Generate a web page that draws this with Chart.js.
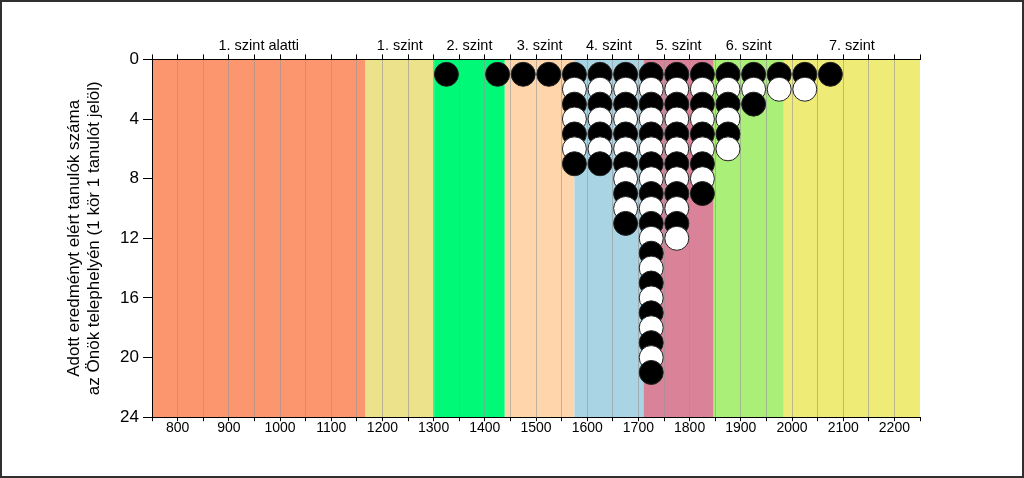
<!DOCTYPE html>
<html lang="hu">
<head>
    <meta charset="UTF-8">
    <title>Képességpontok eloszlása</title>
    <script src="https://cdn.jsdelivr.net/npm/chart.js"></script>
    <style>
        html, body { margin: 0; padding: 0; background: #fff; }
        #keret {
            position: absolute; left: 0; top: 0;
            width: 1024px; height: 478px;
            box-sizing: border-box;
            border: 2px solid #303030;
        }
    </style>
</head>
<body>
    <div id="keret"><canvas id="grafikon"></canvas></div>

    <script>
        // képességpont oszlopok (x) és a tanulók száma oszloponként
        const pontok = [1325, 1425, 1475, 1525, 1575, 1625, 1675, 1725, 1775, 1825, 1875, 1925, 1975, 2025, 2075];
        const tanulokSzama = [1, 1, 1, 1, 7, 7, 11, 21, 12, 9, 6, 3, 2, 2, 1];

        // szintek határai és nevei
        const szintNevek = ['1. szint alatti', '1. szint', '2. szint', '3. szint', '4. szint', '5. szint', '6. szint', '7. szint'];
        const szintHatarok = [750, 1167, 1301, 1439, 1575, 1710, 1847, 1984, 2250];
        const szintSzinek = ['#FC966E', '#ECE28C', '#00FA78', '#FFD6AC', '#A8D4E4', '#DA8298', '#AAF078', '#EEEC76'];

        const yTickek = [0, 4, 8, 12, 16, 20, 24];

        // minden tanuló egy kör: oszloponként 1-től a darabszámig
        const korok = [];
        pontok.forEach((x, i) => {
            for (let n = 1; n <= tanulokSzama[i]; n++) {
                korok.push({ x: x, y: n });
            }
        });

        const szintKozepek = szintNevek.map((_, i) => (szintHatarok[i] + szintHatarok[i + 1]) / 2);

        const betu = "'Liberation Sans', Arial, sans-serif";

        const savok = {
            id: 'savok',
            beforeDraw(chart) {
                const { ctx, chartArea, scales } = chart;
                ctx.save();
                for (let i = 0; i < szintNevek.length; i++) {
                    const x0 = scales.x.getPixelForValue(szintHatarok[i]);
                    const x1 = scales.x.getPixelForValue(szintHatarok[i + 1]);
                    ctx.fillStyle = szintSzinek[i];
                    ctx.fillRect(x0, chartArea.top, x1 - x0, chartArea.bottom - chartArea.top);
                }
                ctx.restore();
            }
        };

        const ctx = document.getElementById('grafikon').getContext('2d');
        const grafikon = new Chart(ctx, {
            type: 'scatter',
            data: {
                datasets: [{
                    data: korok,
                    pointRadius: 12,
                    pointHoverRadius: 12,
                    pointBorderWidth: 1,
                    pointBorderColor: '#222',
                    pointBackgroundColor: c => (c.raw && c.raw.y % 2 === 0) ? '#ffffff' : '#000000'
                }]
            },
            options: {
                responsive: true,
                maintainAspectRatio: false,
                animation: false,
                layout: { padding: { left: 62, right: 102, top: 35, bottom: 40 } },
                plugins: {
                    legend: { display: false },
                    tooltip: { enabled: false }
                },
                scales: {
                    x: {
                        type: 'linear',
                        position: 'bottom',
                        min: 750,
                        max: 2250,
                        ticks: {
                            stepSize: 50,
                            autoSkip: false,
                            maxRotation: 0,
                            padding: -1,
                            color: '#000',
                            font: { family: betu, size: 14 },
                            callback: v => (v % 100 === 0 ? v : '')
                        },
                        grid: {
                            color: c => (c.tick && (c.tick.value === 750 || c.tick.value === 2250)) ? 'rgba(0,0,0,0)' : 'rgba(150,150,150,0.6)',
                            tickColor: '#000',
                            tickLength: 4
                        },
                        border: { color: '#000', width: 1 }
                    },
                    x2: {
                        type: 'linear',
                        position: 'top',
                        weight: 0,
                        min: 750,
                        max: 2250,
                        ticks: { stepSize: 50, display: false, autoSkip: false },
                        grid: { drawOnChartArea: false, tickColor: '#000', tickLength: 5 },
                        border: { color: '#000', width: 1 }
                    },
                    x3: {
                        type: 'linear',
                        position: 'top',
                        weight: 1,
                        min: 750,
                        max: 2250,
                        afterBuildTicks: scale => {
                            scale.ticks = szintKozepek.map(v => ({ value: v }));
                        },
                        ticks: {
                            autoSkip: false,
                            maxRotation: 0,
                            padding: 0,
                            color: '#000',
                            font: { family: betu, size: 14.5 },
                            callback: (v, i) => szintNevek[i]
                        },
                        grid: { display: false, drawTicks: false },
                        border: { display: false }
                    },
                    y: {
                        reverse: true,
                        min: 0,
                        max: 24,
                        afterBuildTicks: scale => {
                            scale.ticks = yTickek.map(v => ({ value: v }));
                        },
                        ticks: {
                            padding: 4,
                            color: '#000',
                            font: { family: betu, size: 17 }
                        },
                        grid: { drawOnChartArea: false, tickColor: '#000', tickLength: 9 },
                        border: { color: '#000', width: 1 },
                        title: {
                            display: true,
                            text: ['Adott eredményt elért tanulók száma', 'az Önök telephelyén (1 kör 1 tanulót jelöl)'],
                            color: '#000',
                            font: { family: betu, size: 17, lineHeight: 1.18 },
                            padding: { top: 0, bottom: 12 }
                        }
                    }
                }
            },
            plugins: [savok]
        });
    </script>
</body>
</html>
